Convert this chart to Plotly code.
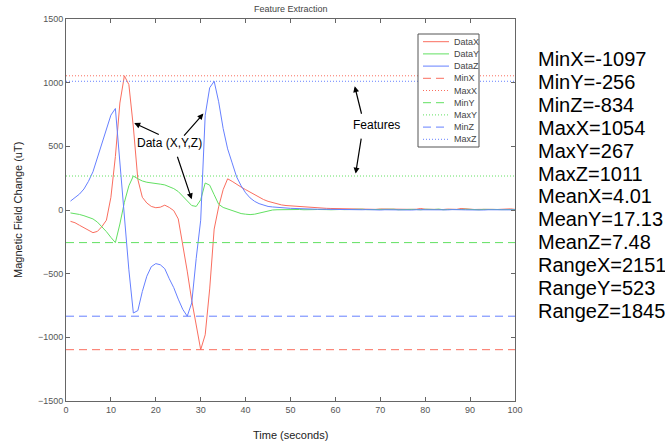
import plotly.graph_objects as go

# ---------------- data ----------------
time = list(range(1, 101))

data_x = [-89, -100, -120, -140, -160, -178, -168, -130, -80, 100,
          420, 840, 1054, 985, 652, 240, 100, 55, 28, 18,
          22, 38, 20, -5, -70, -270, -480, -710, -920, -1097,
          -980, -620, -150, 25, 160, 245, 225, 200, 180, 160,
          140, 120, 100, 82, 68, 58, 48, 40, 35, 32,
          29, 27, 24, 21, 18, 15, 14, 13, 12, 11,
          10, 9, 8, 9, 8, 7, 8, 6, 5, 8,
          7, 6, 5, 6, 5, 4, 5, 6, 12, 6,
          4, 5, 6, 4, 7, 6, 5, 12, 8, 6,
          4, 5, 6, 10, 5, 4, 6, 8, 9, 5]

data_y = [-23, -28, -35, -45, -60, -70, -95, -130, -170, -215,
          -256, -110, 60, 190, 267, 245, 228, 218, 211, 207,
          203, 197, 185, 168, 145, 110, 72, 35, 28, 80,
          212, 195, 120, 45, 20, 8, -8, -20, -28, -33,
          -36, -33, -25, -15, -6, 0, 2, 3, 3, 4,
          3, 4, 2, 5, 3, 4, 6, 3, 2, 5,
          4, 3, 5, 2, 4, 6, 3, 4, 2, 5,
          3, 4, 6, 2, 4, 3, 5, 4, 2, 6,
          3, 4, 7, 2, 4, 3, 5, 4, 6, 3,
          4, 2, 5, 3, 6, 4, 3, 5, 2, 4]

data_z = [70, 100, 125, 165, 225, 300, 410, 530, 640, 745,
          797, 360, -80, -470, -809, -790, -640, -520, -445, -421,
          -430, -461, -540, -610, -700, -780, -834, -730, -380, -80,
          744, 960, 1011, 850, 640, 480, 370, 260, 190, 135,
          95, 68, 50, 38, 28, 24, 20, 18, 15, 13,
          12, 10, 9, 8, 7, 6, 6, 5, 5, 4,
          3, 4, 2, 3, 1, 2, 3, 1, 2, 0,
          2, 1, 3, 0, 2, 1, 0, 2, 1, 3,
          0, 1, 2, 0, 1, 3, 0, 2, 1, 0,
          2, 1, 0, 2, 1, 0, 1, 2, 0, 1]

series_names = ["DataX", "DataY", "DataZ"]
feature_names = ["MinX", "MaxX", "MinY", "MaxY", "MinZ", "MaxZ"]
feature_values = [-1097, 1054, -256, 267, -834, 1011]

stat_labels = ["MinX", "MinY", "MinZ", "MaxX", "MaxY", "MaxZ",
               "MeanX", "MeanY", "MeanZ", "RangeX", "RangeY", "RangeZ"]
stat_values = ["-1097", "-256", "-834", "1054", "267", "1011",
               "4.01", "17.13", "7.48", "2151", "523", "1845"]

x_ticks = [0, 10, 20, 30, 40, 50, 60, 70, 80, 90, 100]
y_ticks = [-1500, -1000, -500, 0, 500, 1000, 1500]

# ---------------- styles ----------------
RED, GREEN, BLUE = "#fa6e5f", "#62e062", "#6680ff"
series_colors = [RED, GREEN, BLUE]
feature_colors = [RED, RED, GREEN, GREEN, BLUE, BLUE]
DASH, DOT = "8px,5px", "1px,2px"
feature_dashes = [DASH, DOT, DASH, DOT, DASH, DOT]

W, H = 665, 444
L, R, T, B = 66, 150, 19, 43
PW, PH = W - L - R, H - T - B


def px2paper_x(px):
    return (px - L) / PW


def px2paper_y(py):
    return (H - B - py) / PH


fig = go.Figure()
for name, vals, col in zip(series_names, [data_x, data_y, data_z], series_colors):
    fig.add_trace(go.Scatter(x=time, y=vals, mode="lines", name=name,
                             line=dict(color=col, width=1), showlegend=False))

x_span = [x_ticks[0], x_ticks[-1]]
for name, val, col, dsh in zip(feature_names, feature_values, feature_colors, feature_dashes):
    fig.add_trace(go.Scatter(x=x_span, y=[val, val], mode="lines", name=name,
                             line=dict(color=col, width=1, dash=dsh), showlegend=False))

axis_font = dict(family="Liberation Sans, Arial, sans-serif", size=9, color="#555555")
fig.update_xaxes(range=[0, 100], tickvals=x_ticks, ticks="inside", ticklen=4,
                 tickcolor="#666666", showline=True, linecolor="#666666", linewidth=1,
                 mirror="ticks", showgrid=False, zeroline=False, tickfont=axis_font)
fig.update_yaxes(range=[-1500, 1500], tickvals=y_ticks, ticks="inside", ticklen=4,
                 tickcolor="#666666", showline=True, linecolor="#666666", linewidth=1,
                 mirror="ticks", showgrid=False, zeroline=False, tickfont=axis_font)

annotations = []
shapes = []
txt_font = dict(family="Liberation Sans, Arial, sans-serif", color="#222222")

# title and axis titles
annotations.append(dict(text="Feature Extraction", xref="paper", yref="paper",
                        x=0.5, y=px2paper_y(9), xanchor="center", yanchor="middle",
                        showarrow=False, font=dict(txt_font, size=9, color="#444444")))
annotations.append(dict(text="Time (seconds)", xref="paper", yref="paper",
                        x=0.5, y=px2paper_y(435), xanchor="center", yanchor="middle",
                        showarrow=False, font=dict(txt_font, size=11)))
annotations.append(dict(text="Magnetic Field Change (uT)", xref="paper", yref="paper",
                        x=px2paper_x(18), y=0.5, xanchor="center", yanchor="middle",
                        textangle=-90, showarrow=False, font=dict(txt_font, size=11)))

# callouts
note_font = dict(family="Liberation Sans, Arial, sans-serif", size=12, color="black")
annotations.append(dict(text="Data (X,Y,Z)", x=23.0, y=524, xref="x", yref="y",
                        showarrow=False, font=note_font))
annotations.append(dict(text="Features", x=69.1, y=668, xref="x", yref="y",
                        showarrow=False, font=note_font))
arrows = [((15.2, 683), (21.0, 587)), ((30.6, 757), (26.0, 573)),
          ((28.0, 84), (24.7, 430)), ((64.3, 972), (65.9, 744)),
          ((64.5, 286), (65.8, 573))]
for (hx, hy), (tx, ty) in arrows:
    annotations.append(dict(text="", x=hx, y=hy, ax=tx, ay=ty, xref="x", yref="y",
                            axref="x", ayref="y", showarrow=True, arrowhead=2,
                            arrowsize=1, arrowwidth=1.2, arrowcolor="black"))

# custom legend box
shapes.append(dict(type="rect", xref="paper", yref="paper",
                   x0=px2paper_x(418), x1=px2paper_x(479),
                   y0=px2paper_y(147), y1=px2paper_y(34),
                   line=dict(color="#555555", width=1), fillcolor="white"))
leg_names = series_names + feature_names
leg_colors = series_colors + feature_colors
leg_dashes = ["solid"] * 3 + feature_dashes
for i, (nm, col, dsh) in enumerate(zip(leg_names, leg_colors, leg_dashes)):
    yy = px2paper_y(41.7 + 12.2 * i)
    shapes.append(dict(type="line", xref="paper", yref="paper",
                       x0=px2paper_x(423), x1=px2paper_x(449), y0=yy, y1=yy,
                       line=dict(color=col, width=1, dash=dsh)))
    annotations.append(dict(text=nm, xref="paper", yref="paper", x=px2paper_x(452),
                            y=yy, xanchor="left", yanchor="middle", showarrow=False,
                            font=dict(family="Liberation Sans, Arial, sans-serif",
                                      size=9, color="#444444")))

# statistics text block on the right
for i, (lab, val) in enumerate(zip(stat_labels, stat_values)):
    annotations.append(dict(text=f"{lab}={val}", xref="paper", yref="paper",
                            x=px2paper_x(536), y=px2paper_y(59 + 22.9 * i),
                            xanchor="left", yanchor="middle", showarrow=False,
                            font=dict(family="Liberation Sans, Arial, sans-serif",
                                      size=20, color="black")))

fig.update_layout(width=W, height=H, margin=dict(l=L, r=R, t=T, b=B),
                  paper_bgcolor="white", plot_bgcolor="white",
                  showlegend=False, annotations=annotations, shapes=shapes)

fig.write_html("out.html", config={"displayModeBar": False},
               post_script="document.body.style.margin='0';document.body.style.padding='0';")
